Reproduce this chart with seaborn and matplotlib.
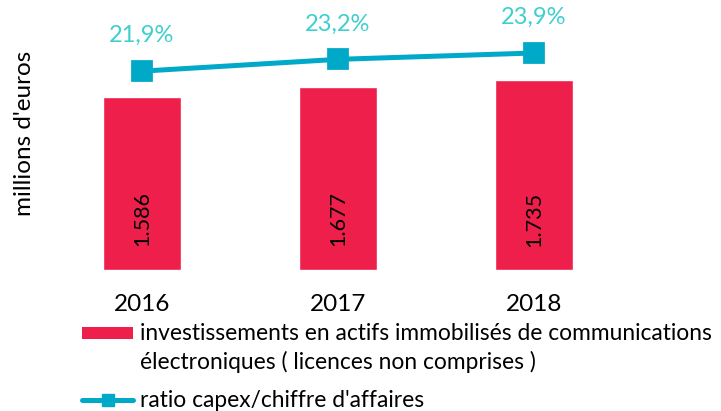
import matplotlib
matplotlib.use("Agg")
import matplotlib.pyplot as plt
import seaborn as sns
import pandas as pd
from matplotlib.patches import Patch, Rectangle
from matplotlib.lines import Line2D
from matplotlib.legend_handler import HandlerPatch

years = ["2016", "2017", "2018"]
invest = [1586, 1677, 1735]
ratio = [21.9, 23.2, 23.9]
bar_labels = ["1.586", "1.677", "1.735"]
ratio_labels = ["21,9%", "23,2%", "23,9%"]
legend_bar = "investissements en actifs immobilisés de communications\nélectroniques ( licences non comprises )"
legend_line = "ratio capex/chiffre d'affaires"
ylabel = "millions d'euros"

BAR_C = "#EE1F4B"
LINE_C = "#00A9C8"
LABEL_C = "#3ECFCF"

sns.set_theme(style="white")
plt.rcParams["font.family"] = ["Lato", "DejaVu Sans"]

df = pd.DataFrame({"year": years, "invest": invest, "ratio": ratio})

fig = plt.figure(figsize=(7.21, 4.11), dpi=100)
ax = fig.add_axes([44 / 721, 141 / 411, 588 / 721, 250 / 411])
sns.barplot(data=df, x="year", y="invest", color=BAR_C, width=0.4, ax=ax, saturation=1)
ax.set_ylim(0, 250 * 9.15)
ax.set_xlim(-0.5, 2.5)
for i, lab in enumerate(bar_labels):
    ax.text(i, 467, lab, rotation=90, ha="center", va="center", fontsize=15.5, color="black")

ax2 = ax.twinx()
sns.pointplot(data=df, x="year", y="ratio", ax=ax2, color=LINE_C, markers="s",
              markersize=13, linewidth=3.6, errorbar=None)
ax2.set_ylim(0, 250 / 9.08)
ax2.set_xlim(-0.5, 2.5)
for i, lab in enumerate(ratio_labels):
    ax2.text(i, ratio[i] + 3.9, lab, ha="center", va="center", fontsize=17, color=LABEL_C)

for a in (ax, ax2):
    for s in a.spines.values():
        s.set_visible(False)
    a.set_yticks([])
    a.set_ylabel("")
ax.set_xlabel("")
ax2.set_xlabel("")
ax.tick_params(axis="x", length=0, labelsize=17.5, colors="black", pad=17)

fig.text(25 / 721, 1 - 133 / 411, ylabel, rotation=90, ha="center", va="center", fontsize=17.5, color="black")


def raised_patch(legend, orig_handle, xdescent, ydescent, width, height, fontsize):
    return Rectangle((-xdescent, -ydescent + 10.8), width, height)


handles = [Patch(facecolor=BAR_C, edgecolor="none"),
           Line2D([0], [0], color=LINE_C, lw=3.6, marker="s", markersize=8)]
leg = fig.legend(handles, [legend_bar, legend_line], loc="upper left",
                 bbox_to_anchor=(73 / 721, 1 - 314 / 411), frameon=False, fontsize=16.4,
                 handlelength=2.25, handleheight=0.45, handletextpad=0.3, labelspacing=0.75,
                 borderaxespad=0, labelcolor="black",
                 handler_map={Patch: HandlerPatch(patch_func=raised_patch)})
leg.get_texts()[0].set_linespacing(1.35)

fig.savefig("out.png", dpi=100, facecolor="white")
